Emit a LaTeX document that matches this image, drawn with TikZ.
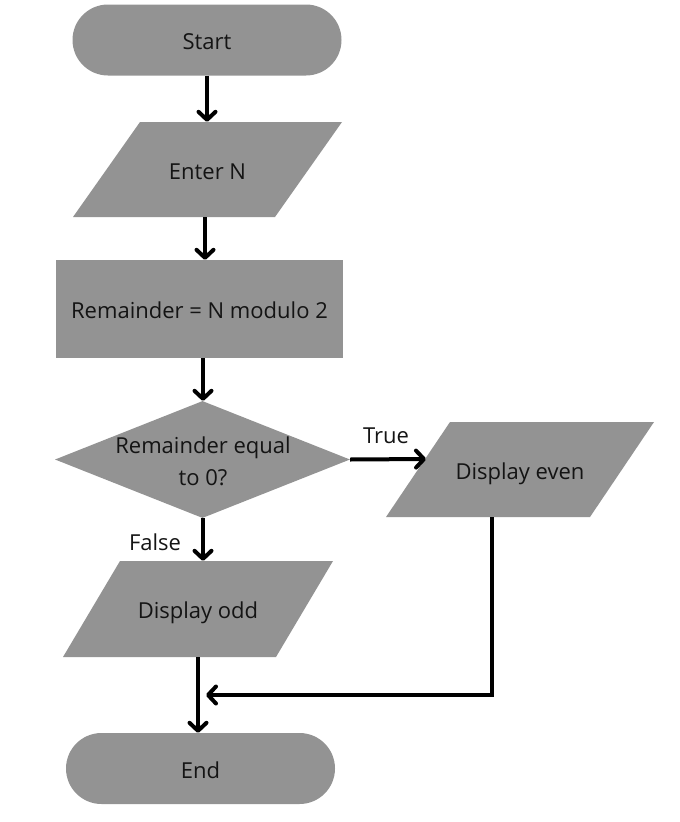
\documentclass[tikz,border=0pt]{standalone}
\usepackage{fontspec}
\setmainfont{Open Sans}
\usetikzlibrary{shapes.geometric,shapes.misc,arrows.meta}
\definecolor{boxgray}{HTML}{939393}
\definecolor{txt}{HTML}{141414}
\begin{document}
\begin{tikzpicture}[x=1pt,y=-1pt,
  txtfont/.style={text=txt, font=\fontsize{22}{24}\selectfont},
  box/.style={fill=boxgray, draw=none, inner sep=0pt, txtfont, text height=19pt, text depth=0pt},
  term/.style={box, rounded rectangle, minimum width=269pt, minimum height=71pt},
  proc/.style={box, rectangle, minimum width=287pt, minimum height=98pt},
  io/.style={inner sep=0pt, txtfont, text height=19pt, text depth=0pt, rectangle, minimum height=95pt,
    path picture={\fill[boxgray]
      ([xshift=#1]path picture bounding box.north west) --
      (path picture bounding box.north east) --
      ([xshift=-#1]path picture bounding box.south east) --
      (path picture bounding box.south west) -- cycle;}},
  dec/.style={fill=boxgray, draw=none, inner sep=0pt, diamond, minimum width=295pt, minimum height=117pt},
  lbl/.style={txtfont, inner sep=0pt},
  flow/.style={line width=4pt, -{Straight Barb[length=8pt,width=17pt,round]}},
  link/.style={line width=4pt, line join=miter}
]
\useasboundingbox (0,0) rectangle (680,822);

\node[term] (start) at (207,40) {Start};
\node[io=67pt, minimum width=269pt] (enter) at (207.5,169.5) {Enter N};
\node[proc] (rem) at (199.5,309) {Remainder = N modulo 2};
\node[dec] (dec) at (202.5,459.5) {};
\node[lbl, align=center] (dectext) at (203,461) {Remainder equal\\[8pt]to 0?};
\node[io=64pt, minimum width=268pt] (even) at (520,469.5) {Display even};
\node[io=57pt, minimum width=270pt, minimum height=96pt] (odd) at (198,609) {Display odd};
\node[term] (end) at (200.5,768.5) {End};

\node[lbl] (true) at (386,436) {True};
\node[lbl] (false) at (155,542) {False};
\coordinate (tin) at (426,459);
\coordinate (merge) at (206,695);

\draw[flow] (207,0 |- start.south) -- (207,0 |- enter.north);
\draw[flow] (205,0 |- enter.south) -- (205,0 |- rem.north);
\draw[flow] (203,0 |- rem.south) -- (203,0 |- dec.north);
\draw[flow] (203,0 |- dec.south) -- (203,0 |- odd.north);
\draw[flow] (198,0 |- odd.south) -- (198,0 |- end.north);
\draw[flow] (dec.east) -- (tin);
\draw[link, -{Straight Barb[length=8pt,width=17pt,round]}] ([xshift=-28pt]even.south) |- (merge);
\end{tikzpicture}
\end{document}
